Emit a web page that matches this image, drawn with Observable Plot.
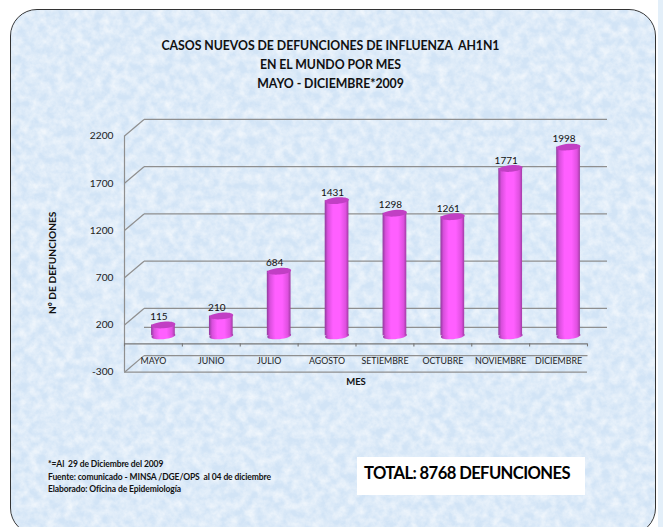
<!DOCTYPE html>
<html><head><meta charset="utf-8">
<script src="https://cdn.jsdelivr.net/npm/d3@7"></script>
<script src="https://cdn.jsdelivr.net/npm/@observablehq/plot@0.6"></script>
<style>
html,body{margin:0;padding:0;background:#fff;}
#page{position:relative;width:663px;height:527px;overflow:hidden;font-family:Lato,"Open Sans",sans-serif;color:#111;}
#strip{position:absolute;left:658px;top:0;width:5px;height:527px;background:#e3eff9;}
#panel{position:absolute;left:9.5px;top:9px;width:644px;height:524px;border:1.5px solid #333;border-radius:27px;overflow:hidden;background:#d2e4f6;}
#panel svg{position:absolute;left:0;top:0;}
#plot{position:absolute;left:0;top:0;}
#plot svg{background:transparent;}
.t{position:absolute;white-space:pre;}
#title{left:0;width:661px;top:36px;text-align:center;font-weight:700;font-size:12.3px;line-height:19px;letter-spacing:-.05px;}
#notes{left:48px;top:458px;font-weight:700;font-size:8.5px;line-height:12.5px;letter-spacing:-.1px;}
#total{left:357px;top:457px;width:228px;height:38px;background:#fff;font-weight:700;font-size:16.6px;line-height:33px;text-indent:7px;letter-spacing:-.6px;color:#000;}
</style></head><body>
<div id="page">
<div id="strip"></div>
<div id="panel"><svg width="644" height="524"><defs>
<filter id="mottle" x="0" y="0" width="100%" height="100%"><feTurbulence type="fractalNoise" baseFrequency="0.11" numOctaves="4" seed="7"/><feColorMatrix type="matrix" values="0 0 0 0 1  0 0 0 0 1  0 0 0 0 1  1.1 0 0 0 -0.3"/></filter>
</defs><rect width="644" height="524" filter="url(#mottle)"/></svg></div>
<svg width="0" height="0" style="position:absolute"><defs>
<linearGradient id="cyl" x1="0" x2="1" y1="0" y2="0">
<stop offset="0" stop-color="#8f3a9c"/><stop offset=".13" stop-color="#d84fdc"/><stop offset=".35" stop-color="#ff5fff"/><stop offset=".65" stop-color="#ff5fff"/><stop offset=".88" stop-color="#df50e0"/><stop offset="1" stop-color="#a23ca6"/>
</linearGradient></defs></svg>
<div id="plot"></div>
<div class="t" id="title">CASOS NUEVOS DE DEFUNCIONES DE INFLUENZA  AH1N1
EN EL MUNDO POR MES
MAYO - DICIEMBRE*2009</div>
<div class="t" id="notes">*=Al  29 de Diciembre del 2009
Fuente: comunicado - MINSA /DGE/OPS  al 04 de diciembre
Elaborado: Oficina de Epidemiología</div>
<div class="t" id="total">TOTAL: 8768 DEFUNCIONES</div>
</div>
<script>
const months = ["MAYO","JUNIO","JULIO","AGOSTO","SETIEMBRE","OCTUBRE","NOVIEMBRE","DICIEMBRE"];
const deaths = [115,210,684,1431,1298,1261,1771,1998];
const yTicks = [-300,200,700,1200,1700,2200];

const idx = months.map((_, i) => i);
const grey = "#8f8f8f";
// depth of the fake 3D box, in scale units
const depthX = 0.337, depthY = 175;
const backLevels = [...yTicks.slice(1), 0];
const halfBar = 0.205;

const ellipse = (rx, ry) => ({draw(c){
  const k = 0.5523;
  c.moveTo(-rx,0);
  c.bezierCurveTo(-rx,-k*ry,-k*rx,-ry,0,-ry);
  c.bezierCurveTo(k*rx,-ry,rx,-k*ry,rx,0);
  c.bezierCurveTo(rx,k*ry,k*rx,ry,0,ry);
  c.bezierCurveTo(-k*rx,ry,-rx,k*ry,-rx,0);
  c.closePath();
}});
const cx = i => i + 0.5;
const capStyle = {symbol: ellipse(12, 3.3), rotate: -5, r: 3, dx: 10, dy: -8};

const chart = Plot.plot({
  width: 663, height: 527,
  marginLeft: 124, marginRight: 76, marginTop: 135.5, marginBottom: 155.3,
  style: {background: "transparent", fontFamily: "Lato, 'Open Sans', sans-serif"},
  x: {domain: [0, 8], axis: null},
  y: {domain: [-300, 2200], axis: null},
  marks: [
    // back wall lines
    Plot.link(backLevels, {x1: depthX, x2: 8 + depthX, y1: d => d + depthY, y2: d => d + depthY, stroke: grey, strokeWidth: 1.2}),
    Plot.link([-300], {x1: depthX, x2: 8, y1: d => d + depthY, y2: d => d + depthY, stroke: grey, strokeWidth: 1.2}),
    // side wall diagonals
    Plot.link(yTicks, {x1: 0, x2: depthX, y1: d => d, y2: d => d + depthY, stroke: grey, strokeWidth: 1.2}),
    // front axis lines
    Plot.ruleX([0], {y1: -300, y2: 2200, stroke: grey, strokeWidth: 1.2}),
    Plot.ruleY([-300], {x1: 0, x2: 8, stroke: grey, strokeWidth: 1.2}),
    Plot.ruleY([0], {x1: 0, x2: 8, stroke: "#777", strokeWidth: 1.2}),
    Plot.ruleX(d3.range(9), {y1: 0, y2: -32, stroke: "#777", strokeWidth: 1.1}),
    // y axis
    Plot.axisY(yTicks, {anchor: "left", tickSize: 0, tickPadding: 11, fontSize: 10.2, fill: "#222", tickFormat: d => String(d)}),
    Plot.text(["Nº DE DEFUNCIONES"], {frameAnchor: "left", dx: -72, dy: 60, rotate: -90, fontWeight: 700, fontSize: 10.2, fill: "#111"}),
    // month labels
    Plot.text(idx, {x: cx, y: -183, text: i => months[i], fontSize: 8.8, fill: "#222"}),
    Plot.text(["MES"], {x: 4, y: -405, fontWeight: 700, fontSize: 9.5, fill: "#111"}),
    // cylinders
    Plot.dot(idx, {x: cx, y: 0, ...capStyle, fill: "url(#cyl)", stroke: "none"}),
    Plot.rectY(idx, {x1: i => cx(i) - halfBar, x2: i => cx(i) + halfBar, y1: 0, y2: i => deaths[i], dx: 10, dy: -8, fill: "url(#cyl)"}),
    Plot.dot(idx, {x: cx, y: i => deaths[i], ...capStyle, fill: "#c13fc4", stroke: "none"}),
    // values
    Plot.text(idx, {x: cx, y: i => deaths[i], text: i => String(deaths[i]), dx: 5.5, dy: -16, fontSize: 10, fill: "#111"})
  ]
});
document.getElementById("plot").appendChild(chart);
</script>
</body></html>
